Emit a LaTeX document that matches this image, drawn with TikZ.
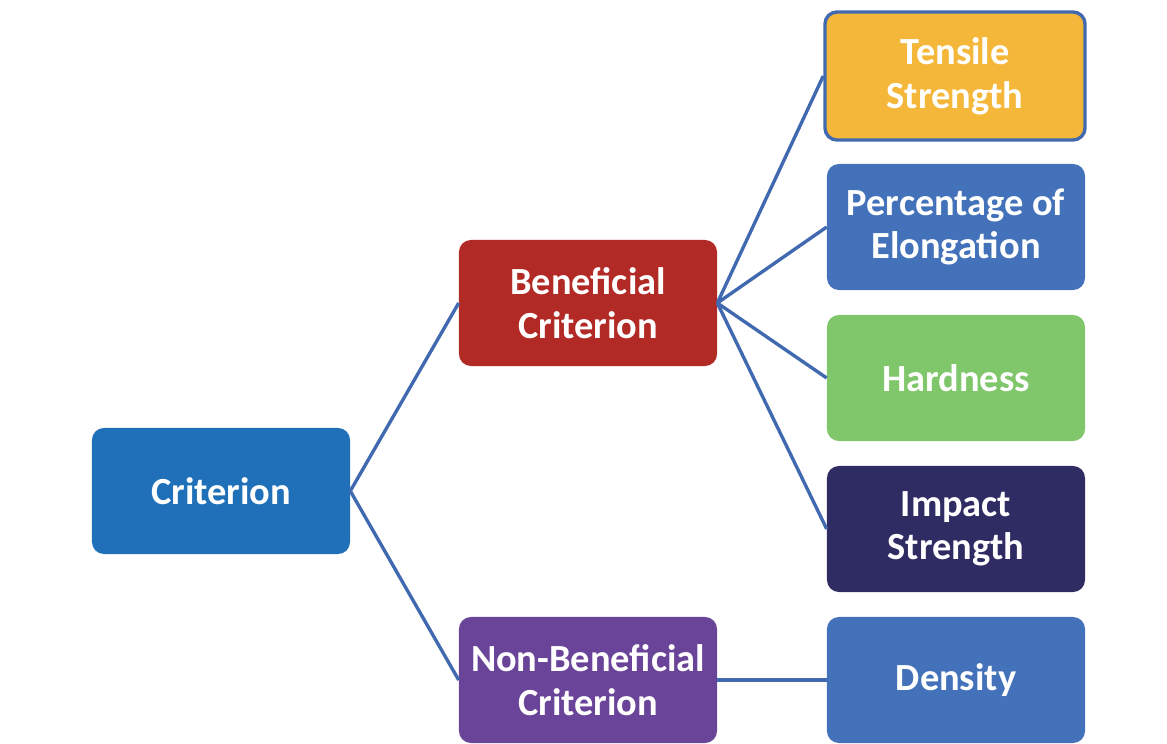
\documentclass[tikz,border=0pt]{standalone}
\usepackage{fontspec}
\setmainfont{Carlito}
\usepackage{xcolor}
\usetikzlibrary{arrows}

\definecolor{critblue}{HTML}{1F70B8}
\definecolor{benred}{HTML}{B22A25}
\definecolor{nonpurple}{HTML}{6A4498}
\definecolor{tensorange}{HTML}{F4B73A}
\definecolor{elongblue}{HTML}{4472BA}
\definecolor{hardgreen}{HTML}{80C66A}
\definecolor{impactnavy}{HTML}{2E2C63}
\definecolor{linkblue}{HTML}{4169B0}

\begin{document}
\begin{tikzpicture}[x=0.025cm, y=-0.025cm,
  box/.style={rounded corners=0.3cm, minimum width=6.45cm, minimum height=3.15cm,
    text=white, align=center, font=\fontsize{27.3}{31}\selectfont\bfseries, inner sep=0pt},
  link/.style={draw=linkblue, line width=2.4pt}]
\useasboundingbox (0,0) rectangle (1167,744);
% блоки
\node [box, fill=critblue] (crit) at (221,491) {Criterion};
\node [box, fill=benred] (ben) at (588,303) {Beneficial\\Criterion};
\node [box, fill=nonpurple] (nonben) at (588,680) {Non-Beneficial\\Criterion};
\node [box, fill=tensorange, draw=linkblue, line width=2.4pt, minimum width=6.5cm, minimum height=3.2cm] (tens) at (955,76) {Tensile\\Strength};
\node [box, fill=elongblue] (elong) at (956,227) {Percentage of\\Elongation};
\node [box, fill=hardgreen] (hard) at (956,378) {Hardness};
\node [box, fill=impactnavy] (impact) at (956,529) {Impact\\Strength};
\node [box, fill=elongblue] (dens) at (956,680) {Density};
% связи
\draw [link] (crit.east) -- (ben.west);
\draw [link] (crit.east) -- (nonben.west);
\draw [link] (ben.east) -- (tens.west);
\draw [link] (ben.east) -- (elong.west);
\draw [link] (ben.east) -- (hard.west);
\draw [link] (ben.east) -- (impact.west);
\draw [link] (nonben.east) -- (dens.west);
\end{tikzpicture}
\end{document}
